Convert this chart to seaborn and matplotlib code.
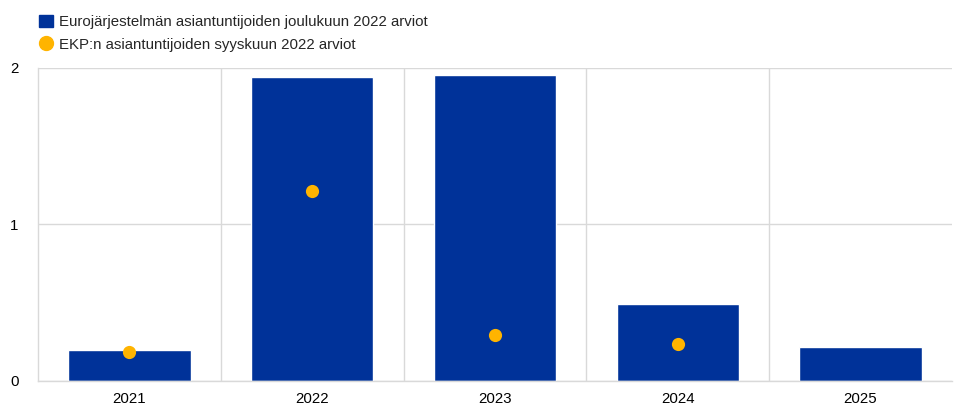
import matplotlib
matplotlib.use("Agg")
import matplotlib.pyplot as plt
import seaborn as sns
import pandas as pd
import numpy as np
from matplotlib.lines import Line2D
from matplotlib.patches import Patch

years = ["2021", "2022", "2023", "2024", "2025"]
dec_2022 = [0.20, 1.94, 1.955, 0.49, 0.22]
sep_2022 = [0.185, 1.215, 0.295, 0.235, np.nan]
label_bar = "Eurojärjestelmän asiantuntijoiden joulukuun 2022 arviot"
label_dot = "EKP:n asiantuntijoiden syyskuun 2022 arviot"

BLUE = "#003299"
YELLOW = "#FFB400"
GRID = "#d9d9d9"

sns.set_theme(style="white")
plt.rcParams["font.family"] = ["Liberation Sans", "DejaVu Sans"]

df = pd.DataFrame({"year": years, "dec": dec_2022, "sep": sep_2022})

fig = plt.figure(figsize=(9.55, 4.05), dpi=100)
ax = fig.add_axes([0.0398, 0.0593, 0.957, 0.773])

sns.barplot(data=df, x="year", y="dec", color=BLUE, saturation=1, width=0.67, ax=ax, zorder=2)
sns.stripplot(data=df, x="year", y="sep", color=YELLOW, size=9.5, jitter=False, ax=ax, zorder=3, linewidth=0)

ax.set_ylim(0, 2)
ax.set_xlim(-0.5, 4.5)
ax.set_yticks([0, 1, 2])
ax.set_yticklabels(["0", "1", "2"])
ax.set_xticks(np.arange(0.5, 4.5, 1), minor=True)
ax.grid(True, axis="y", which="major", color=GRID, linewidth=1, zorder=0)
ax.grid(True, axis="x", which="minor", color=GRID, linewidth=1, zorder=0)
ax.grid(False, axis="x", which="major")
ax.set_axisbelow(True)
ax.set_xlabel("")
ax.set_ylabel("")
for s in ["top", "right"]:
    ax.spines[s].set_visible(False)
for s in ["left", "bottom"]:
    ax.spines[s].set_color(GRID)
    ax.spines[s].set_linewidth(1)
ax.tick_params(axis="both", which="both", length=0, labelsize=10.8, colors="#000000")
ax.tick_params(axis="x", pad=8)
ax.tick_params(axis="y", pad=14)

handles = [
    Patch(facecolor=BLUE, edgecolor=BLUE, label=label_bar),
    Line2D([0], [0], marker="o", color="none", markerfacecolor=YELLOW, markeredgecolor=YELLOW,
           markersize=10, label=label_dot),
]
fig.legend(handles=handles, loc="upper left", bbox_to_anchor=(0.03, 0.99), frameon=False,
           fontsize=10.8, handlelength=0.9, handleheight=0.9, handletextpad=0.4,
           labelspacing=0.55, borderaxespad=0.3)

fig.savefig("out.png", dpi=100)
